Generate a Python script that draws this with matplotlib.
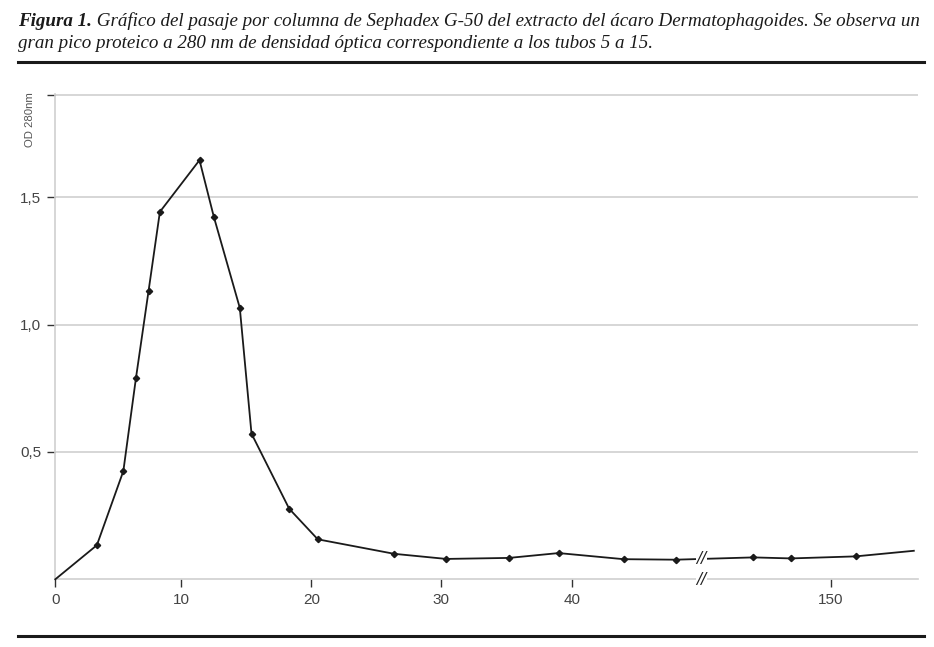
import numpy as np
import matplotlib
matplotlib.use('Agg')
from matplotlib import pyplot as plt
from matplotlib import font_manager

# numero de tubo y densidad optica (280 nm)
tubos = [0, 3.3, 5.4, 6.4, 7.4, 8.3, 11.4, 12.5, 14.5, 15.4, 18.3, 20.5,
         26.4, 30.4, 35.2, 39.0, 44.0, 48.0, 144.0, 146.9, 151.9, 156.4]
od280 = [0.0, 0.134, 0.425, 0.79, 1.132, 1.443, 1.646, 1.424, 1.066, 0.572,
         0.277, 0.157, 0.10, 0.08, 0.084, 0.103, 0.079, 0.077, 0.086, 0.082,
         0.09, 0.112]
xticks = [0, 10, 20, 30, 40, 150]
yticks = [0.5, 1.0, 1.5, 1.9]
ylabels = ['0,5', '1,0', '1,5', '']

titulo_bold = 'Figura 1.'
titulo_1 = ' Gráfico del pasaje por columna de Sephadex G-50 del extracto del ácaro Dermatophagoides. Se observa un'
titulo_2 = 'gran pico proteico a 280 nm de densidad óptica correspondiente a los tubos 5 a 15.'

# eje x con corte entre 50 y 140 (espaciado tal como en la figura original)
nodos = np.array([0, 10, 20, 30, 40, 50, 140, 150, 160], float)
pos = np.array([0, 126, 256, 385.7, 516.4, 646.4, 646.4, 775.7, 905.1])

def fwd(x):
    return np.interp(np.asarray(x, float), nodos, pos, left=-1e3, right=1e4)

def inv(p):
    return np.interp(np.asarray(p, float), pos, nodos)

names = {f.name for f in font_manager.fontManager.ttflist}
sans = 'Liberation Sans Narrow' if 'Liberation Sans Narrow' in names else 'Liberation Sans'

W, H = 934, 647
fig = plt.figure(figsize=(W / 100, H / 100), dpi=100)
ax = fig.add_axes([55.3 / W, 1 - 579.3 / H, (917.7 - 55.3) / W, (579.3 - 93.7) / H])
ax.set_xscale('function', functions=(fwd, inv))
ax.set_xlim(0, 156.7)
ax.set_ylim(0, 1.907)

ax.plot(tubos, od280, color='#1a1a1a', lw=1.3, marker='D', ms=3.2,
        markevery=list(range(1, len(tubos) - 1)), clip_on=False, zorder=3)

ax.set_xticks(xticks)
ax.set_xticklabels([str(t) for t in xticks])
ax.minorticks_off()
ax.set_yticks(yticks)
ax.set_yticklabels(ylabels)
ax.grid(axis='y', color='#cfcfcf', lw=1.2)
ax.set_axisbelow(True)
for s in ['top', 'right']:
    ax.spines[s].set_visible(False)
for s in ['left', 'bottom']:
    ax.spines[s].set_color('#cfcfcf')
    ax.spines[s].set_linewidth(1.2)
ax.tick_params(direction='out', length=6, width=1, color='#333333',
               labelcolor='#444444', labelsize=11, pad=4)
for lab in ax.get_xticklabels() + ax.get_yticklabels():
    lab.set_fontfamily(sans)

# marcas de corte
for yv in [0.081, 0.0]:
    ax.text(50, yv, '//', ha='center', va='center', fontsize=11, color='#222222',
            fontfamily='DejaVu Sans', fontstyle='italic',
            bbox=dict(facecolor='white', edgecolor='none', pad=0.2), zorder=4,
            clip_on=False)

fig.text(30.5 / W, 1 - 92 / H, 'OD 280nm', rotation=90, ha='center', va='top',
         fontsize=8.2, color='#555555', fontfamily=sans)

# titulo
t1 = fig.text(18 / W, 1 - 26.5 / H, titulo_bold, fontsize=13.7, fontweight='bold',
              fontstyle='italic', fontfamily='Liberation Serif', color='#1a1a1a')
fig.canvas.draw()
bb = t1.get_window_extent()
fig.text(bb.x1 / W, 1 - 26.5 / H, titulo_1, fontsize=13.7, fontstyle='italic',
         fontfamily='Liberation Serif', color='#1a1a1a')
fig.text(18 / W, 1 - 48.3 / H, titulo_2, fontsize=13.7, fontstyle='italic',
         fontfamily='Liberation Serif', color='#1a1a1a')

fig.add_artist(plt.Line2D([18 / W, 924 / W], [1 - 62 / H] * 2, color='#1a1a1a', lw=2.2))
fig.add_artist(plt.Line2D([18 / W, 924 / W], [1 - 636 / H] * 2, color='#1a1a1a', lw=2.2))

fig.savefig('out.png', dpi=100)
